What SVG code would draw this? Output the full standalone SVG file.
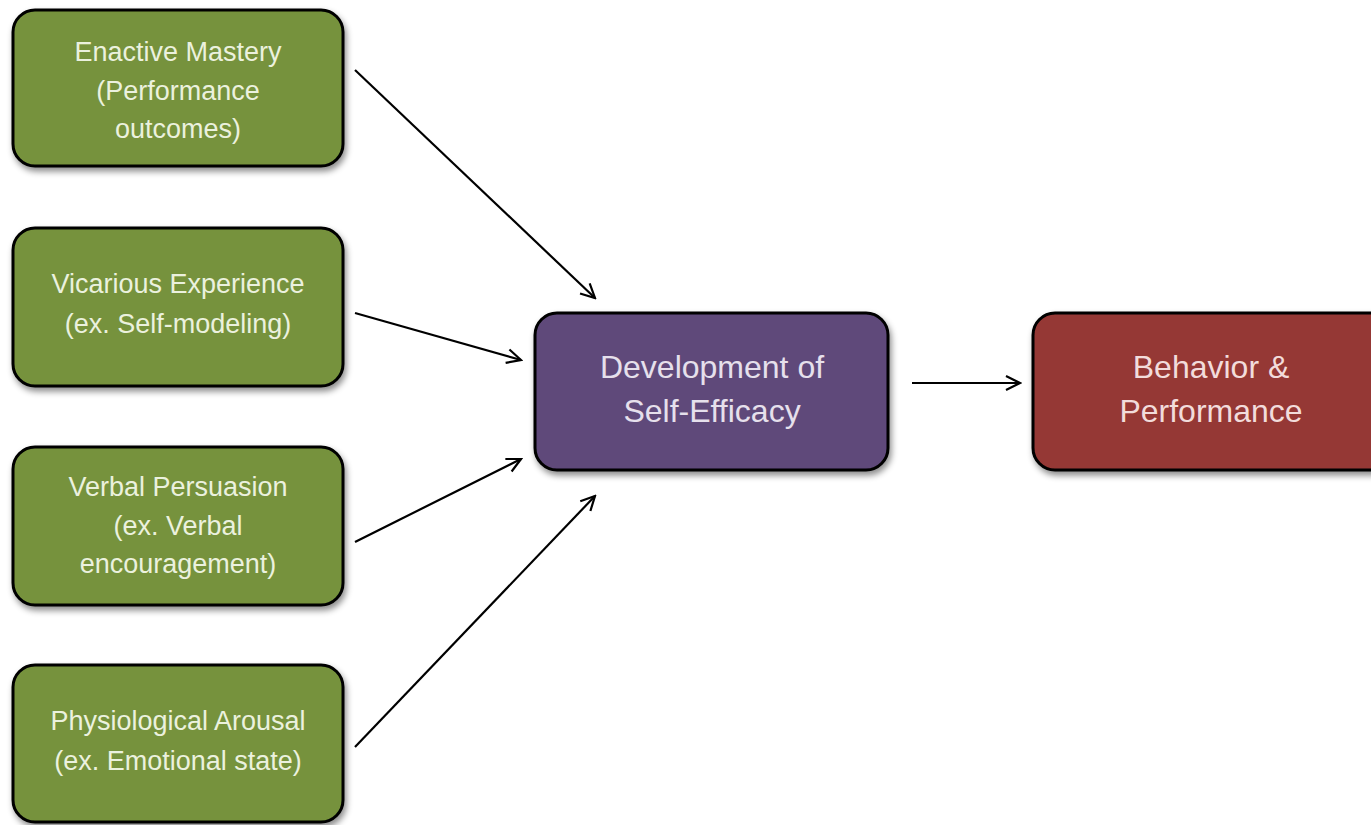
<svg xmlns="http://www.w3.org/2000/svg" width="1371" height="825" viewBox="0 0 1371 825">
<defs>
<filter id="sh" x="-10%" y="-10%" width="130%" height="140%">
<feDropShadow dx="2" dy="4" stdDeviation="3" flood-color="#000" flood-opacity="0.45"/>
</filter>
<marker id="arr" viewBox="0 0 20 20" refX="18" refY="10" markerWidth="20" markerHeight="20" markerUnits="userSpaceOnUse" orient="auto">
<polyline points="4,3 18,10 4,17" fill="none" stroke="#000" stroke-width="2.2"/>
</marker>
<style>
.box{stroke:#000;stroke-width:3;filter:url(#sh)}
.g{fill:#76923c}
.p{fill:#5f497a}
.r{fill:#953735}
text{font-family:"Liberation Sans",Arial,sans-serif;text-anchor:middle}
.tg{fill:#ebf1de;font-size:27px}
.tp{fill:#e6e0ec;font-size:32px}
.tr{fill:#f2dcdb;font-size:32px}
.c{stroke:#000;stroke-width:2.2;fill:none;marker-end:url(#arr)}
</style>
</defs>
<rect width="1371" height="825" fill="#fff"/>
<g id="connectors">
<line class="c" x1="355" y1="70" x2="595" y2="298"/>
<line class="c" x1="355" y1="313" x2="521" y2="360"/>
<line class="c" x1="355" y1="542" x2="521" y2="459"/>
<line class="c" x1="355" y1="747" x2="595" y2="496"/>
<line class="c" x1="912" y1="383" x2="1020" y2="383"/>
</g>
<g id="enactive">
<rect class="box g" x="13" y="10" width="330" height="156" rx="22"/>
<text class="tg" x="178" y="61">Enactive Mastery</text>
<text class="tg" x="178" y="100">(Performance</text>
<text class="tg" x="178" y="138">outcomes)</text>
</g>
<g id="vicarious">
<rect class="box g" x="13" y="228" width="330" height="158" rx="22"/>
<text class="tg" x="178" y="293">Vicarious Experience</text>
<text class="tg" x="178" y="333">(ex. Self-modeling)</text>
</g>
<g id="verbal">
<rect class="box g" x="13" y="447" width="330" height="158" rx="22"/>
<text class="tg" x="178" y="496">Verbal Persuasion</text>
<text class="tg" x="178" y="535">(ex. Verbal</text>
<text class="tg" x="178" y="573">encouragement)</text>
</g>
<g id="physio">
<rect class="box g" x="13" y="665" width="330" height="157" rx="22"/>
<text class="tg" x="178" y="730">Physiological Arousal</text>
<text class="tg" x="178" y="770">(ex. Emotional state)</text>
</g>
<g id="selfefficacy">
<rect class="box p" x="535" y="313" width="353" height="157" rx="22"/>
<text class="tp" x="712" y="378">Development of</text>
<text class="tp" x="712" y="422">Self-Efficacy</text>
</g>
<g id="behavior">
<rect class="box r" x="1033" y="313" width="360" height="157" rx="22"/>
<text class="tr" x="1211" y="378">Behavior &amp;</text>
<text class="tr" x="1211" y="422">Performance</text>
</g>
</svg>
